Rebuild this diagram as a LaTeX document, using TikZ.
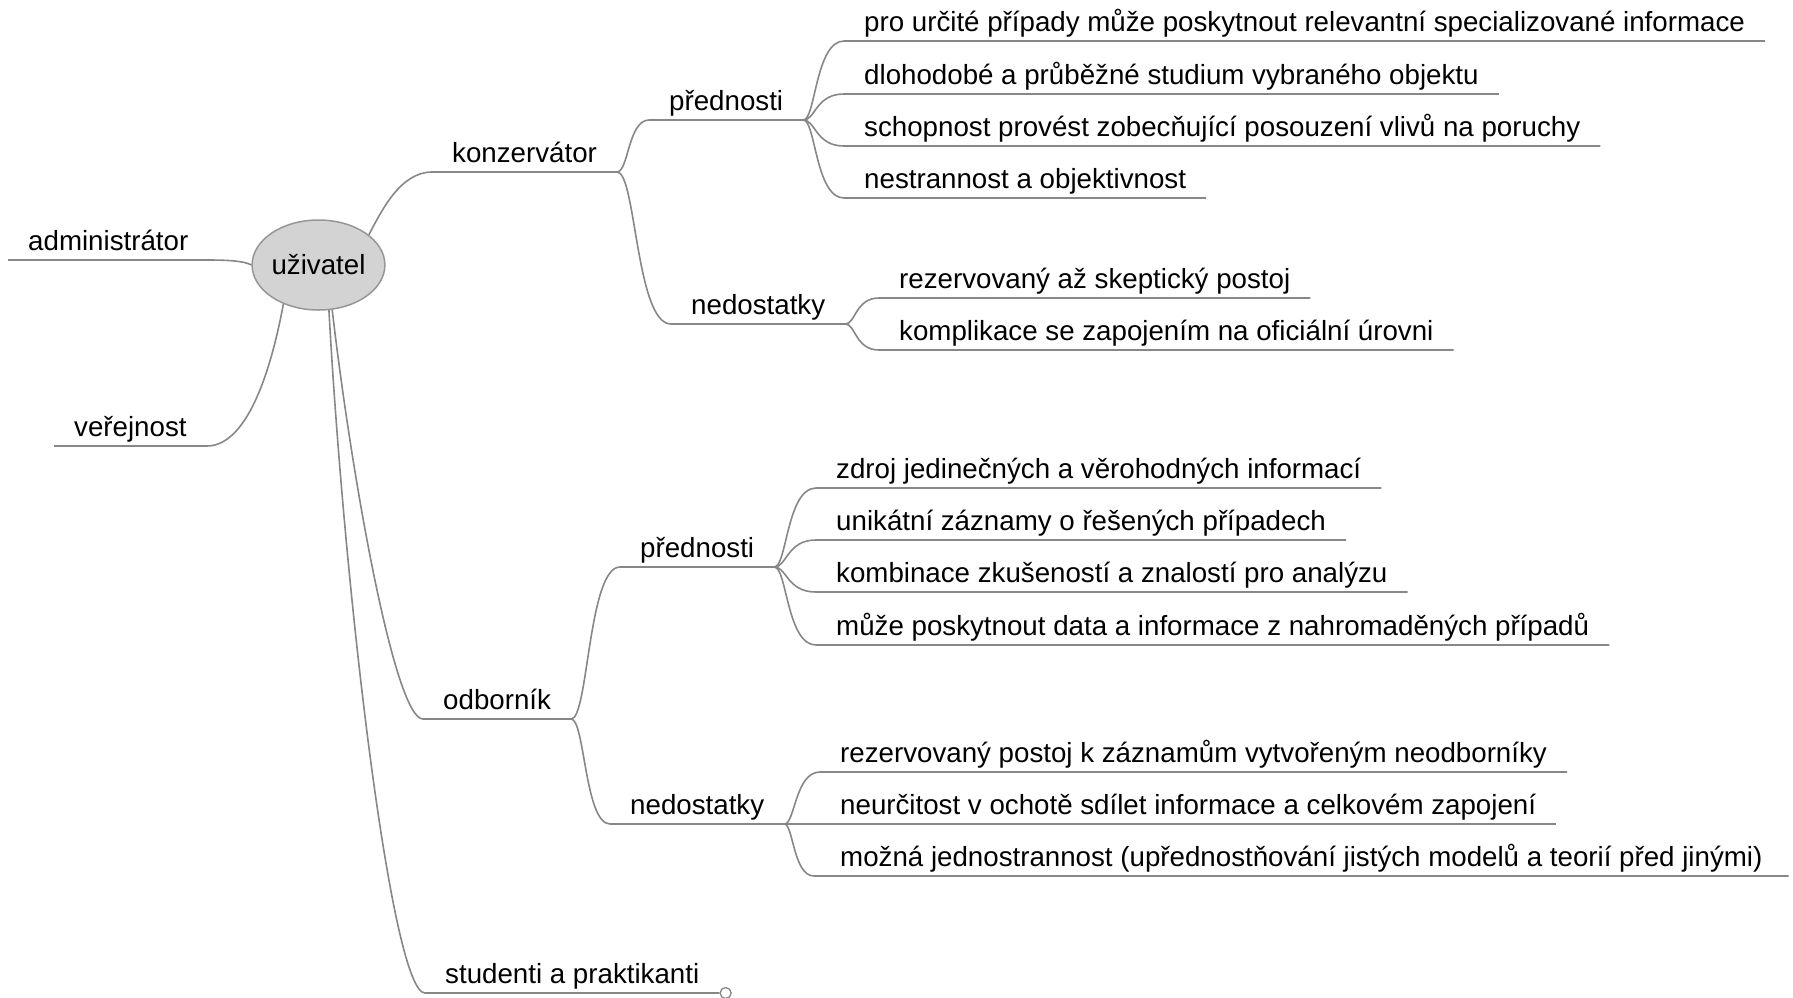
\documentclass[tikz,border=0pt]{standalone}
\usepackage{fontspec}
\setmainfont{Liberation Sans}
\usetikzlibrary{calc,shapes.geometric}
\definecolor{linec}{RGB}{135,135,135}
\definecolor{rootfill}{RGB}{211,211,211}
\definecolor{rootdraw}{RGB}{150,150,150}
\tikzset{
  link/.style={draw=linec, line width=1.6pt},
  lbl/.style={font=\fontsize{27.7pt}{33pt}\selectfont, text=black, inner xsep=20pt, inner ysep=3.5pt,
    text depth=6pt, text height=20pt, anchor=south west},
  rootnode/.style={ellipse, draw=rootdraw, fill=rootfill, line width=1.5pt, minimum width=131pt,
    minimum height=90pt, inner sep=0pt, font=\fontsize{27.7pt}{33pt}\selectfont},
  endknob/.style={circle, draw=linec, fill=white, line width=1.3pt, minimum size=11pt, inner sep=0pt, anchor=west}
}
% curve from a branch point to the underline of a child node
\newcommand\mmc[3]{%
  \draw[link] let \p1=(#1), \p2=(#2.south west) in
    (\p1) .. controls ({\x1+#3*(\x2-\x1)},\y1) and ({\x1+#3*(\x2-\x1)},\y2) .. (\p2) -- (#2.south east);}
\begin{document}
\begin{tikzpicture}[x=1pt,y=-1pt]
\useasboundingbox (0,0) rectangle (1793,997);
% root
\node[rootnode] (u) at (318.5,265) {uživatel};
% level 1
\node[lbl] (adm) at (8,260) {administrátor};
\node[lbl] (ver) at (54,446) {veřejnost};
\node[lbl] (kon) at (432,172) {konzervátor};
\node[lbl] (odb) at (423,719) {odborník};
\node[lbl] (stu) at (425,993) {studenti a praktikanti};
% level 2
\node[lbl] (kp) at (649,120) {přednosti};
\node[lbl] (kn) at (671,324) {nedostatky};
\node[lbl] (op) at (620,567) {přednosti};
\node[lbl] (on) at (610,824) {nedostatky};
% leaves
\node[lbl] (k1) at (844,41) {pro určité případy může poskytnout relevantní specializované informace};
\node[lbl] (k2) at (844,94) {dlohodobé a průběžné studium vybraného objektu};
\node[lbl] (k3) at (844,146) {schopnost provést zobecňující posouzení vlivů na poruchy};
\node[lbl] (k4) at (844,198) {nestrannost a objektivnost};
\node[lbl] (kn1) at (879,298) {rezervovaný až skeptický postoj};
\node[lbl] (kn2) at (879,350) {komplikace se zapojením na oficiální úrovni};
\node[lbl] (o1) at (816,488) {zdroj jedinečných a věrohodných informací};
\node[lbl] (o2) at (816,540) {unikátní záznamy o řešených případech};
\node[lbl] (o3) at (816,592) {kombinace zkušeností a znalostí pro analýzu};
\node[lbl] (o4) at (816,645) {může poskytnout data a informace z nahromaděných případů};
\node[lbl] (on1) at (820,772) {rezervovaný postoj k záznamům vytvořeným neodborníky};
\node[lbl] (on2) at (820,824) {neurčitost v ochotě sdílet informace a celkovém zapojení};
\node[lbl, inner xsep=26pt] (on3) at (814,876) {možná jednostrannost (upřednostňování jistých modelů a teorií před jinými)};
% level 1 connectors
\draw[link] (adm.south west) -- (adm.south east) .. controls (235,260) and (246,262) .. (u.west);
\draw[link] (ver.south west) -- (ver.south east) .. controls (250,446) and (273,360) .. (u.-132);
\draw[link] (u.31) .. controls (381,212) and (400,172) .. (kon.south west) -- (kon.south east);
\draw[link] (u.-73) .. controls (352,480) and (395,719) .. (odb.south west) -- (odb.south east);
\draw[link] (u.-77) .. controls (345,600) and (392,993) .. (stu.south west) -- (stu.south east);
\node[endknob] (knob) at (stu.south east) {};
% level 2 connectors
\mmc{kon.south east}{kp}{0.35}
\mmc{kon.south east}{kn}{0.35}
\mmc{odb.south east}{op}{0.35}
\mmc{odb.south east}{on}{0.35}
% leaf connectors
\mmc{kp.south east}{k1}{0.3}
\mmc{kp.south east}{k2}{0.3}
\mmc{kp.south east}{k3}{0.3}
\mmc{kp.south east}{k4}{0.3}
\mmc{kn.south east}{kn1}{0.3}
\mmc{kn.south east}{kn2}{0.3}
\mmc{op.south east}{o1}{0.3}
\mmc{op.south east}{o2}{0.3}
\mmc{op.south east}{o3}{0.3}
\mmc{op.south east}{o4}{0.3}
\mmc{on.south east}{on1}{0.3}
\mmc{on.south east}{on2}{0.3}
\mmc{on.south east}{on3}{0.3}
\end{tikzpicture}
\end{document}
